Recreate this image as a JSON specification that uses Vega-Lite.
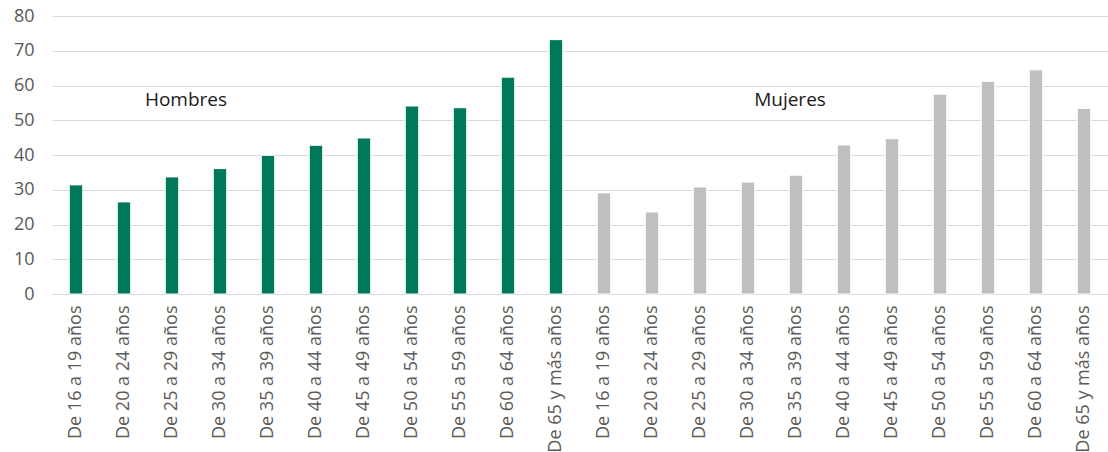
{
  "$schema": "https://vega.github.io/schema/vega-lite/v6.json",
  "width": 1056,
  "height": 278,
  "autosize": {"type": "none"},
  "padding": {"left": 52, "top": 16, "right": 0, "bottom": 158},
  "background": "white",
  "config": {"view": {"stroke": null}, "font": "Open Sans"},
  "datasets": {
    "bars": [
      {"key": "H|De 16 a 19 años", "sexo": "Hombres", "valor": 31.4},
      {"key": "H|De 20 a 24 años", "sexo": "Hombres", "valor": 26.5},
      {"key": "H|De 25 a 29 años", "sexo": "Hombres", "valor": 33.7},
      {"key": "H|De 30 a 34 años", "sexo": "Hombres", "valor": 36.1},
      {"key": "H|De 35 a 39 años", "sexo": "Hombres", "valor": 39.9},
      {"key": "H|De 40 a 44 años", "sexo": "Hombres", "valor": 42.8},
      {"key": "H|De 45 a 49 años", "sexo": "Hombres", "valor": 44.9},
      {"key": "H|De 50 a 54 años", "sexo": "Hombres", "valor": 54.1},
      {"key": "H|De 55 a 59 años", "sexo": "Hombres", "valor": 53.6},
      {"key": "H|De 60 a 64 años", "sexo": "Hombres", "valor": 62.4},
      {"key": "H|De 65 y más años", "sexo": "Hombres", "valor": 73.2},
      {"key": "M|De 16 a 19 años", "sexo": "Mujeres", "valor": 29.1},
      {"key": "M|De 20 a 24 años", "sexo": "Mujeres", "valor": 23.6},
      {"key": "M|De 25 a 29 años", "sexo": "Mujeres", "valor": 30.8},
      {"key": "M|De 30 a 34 años", "sexo": "Mujeres", "valor": 32.2},
      {"key": "M|De 35 a 39 años", "sexo": "Mujeres", "valor": 34.2},
      {"key": "M|De 40 a 44 años", "sexo": "Mujeres", "valor": 42.9},
      {"key": "M|De 45 a 49 años", "sexo": "Mujeres", "valor": 44.7},
      {"key": "M|De 50 a 54 años", "sexo": "Mujeres", "valor": 57.5},
      {"key": "M|De 55 a 59 años", "sexo": "Mujeres", "valor": 61.2},
      {"key": "M|De 60 a 64 años", "sexo": "Mujeres", "valor": 64.5},
      {"key": "M|De 65 y más años", "sexo": "Mujeres", "valor": 53.4}
    ],
    "hombres": [
      {"key": "H|De 25 a 29 años", "texto": "Hombres", "valor": 55.8}
    ],
    "mujeres": [
      {"key": "M|De 35 a 39 años", "texto": "Mujeres", "valor": 55.8}
    ]
  },
  "encoding": {
    "x": {
      "field": "key",
      "type": "nominal",
      "sort": null,
      "scale": {"paddingInner": 0.72, "paddingOuter": 0.36},
      "axis": {
        "title": null,
        "labelAngle": -90,
        "labelExpr": "slice(datum.value, 2)",
        "labelFontSize": 18,
        "labelColor": "#595959",
        "labelPadding": 11,
        "labelLimit": 300,
        "ticks": false,
        "domain": true,
        "domainColor": "#d9d9d9",
        "labelFont": "Open Sans"
      }
    },
    "y": {
      "field": "valor",
      "type": "quantitative",
      "scale": {"domain": [0, 80], "nice": false},
      "axis": {
        "title": null,
        "tickCount": 8,
        "labelOverlap": false,
        "grid": true,
        "gridColor": "#d9d9d9",
        "gridWidth": 1.2,
        "domain": false,
        "ticks": false,
        "labelFontSize": 18,
        "labelColor": "#595959",
        "labelPadding": 18,
        "labelFont": "Open Sans"
      }
    }
  },
  "layer": [
    {
      "data": {"name": "bars"},
      "mark": {"type": "bar", "stroke": "white", "strokeWidth": 1},
      "encoding": {
        "color": {
          "field": "sexo",
          "type": "nominal",
          "scale": {"domain": ["Hombres", "Mujeres"], "range": ["#00785a", "#bfbfbf"]},
          "legend": null
        }
      }
    },
    {
      "data": {"name": "hombres"},
      "mark": {"type": "text", "fontSize": 19, "color": "#1a1a1a", "font": "Open Sans", "align": "center", "baseline": "middle", "dx": 14},
      "encoding": {"text": {"field": "texto"}}
    },
    {
      "data": {"name": "mujeres"},
      "mark": {"type": "text", "fontSize": 19, "color": "#1a1a1a", "font": "Open Sans", "align": "center", "baseline": "middle", "dx": -6},
      "encoding": {"text": {"field": "texto"}}
    }
  ]
}
